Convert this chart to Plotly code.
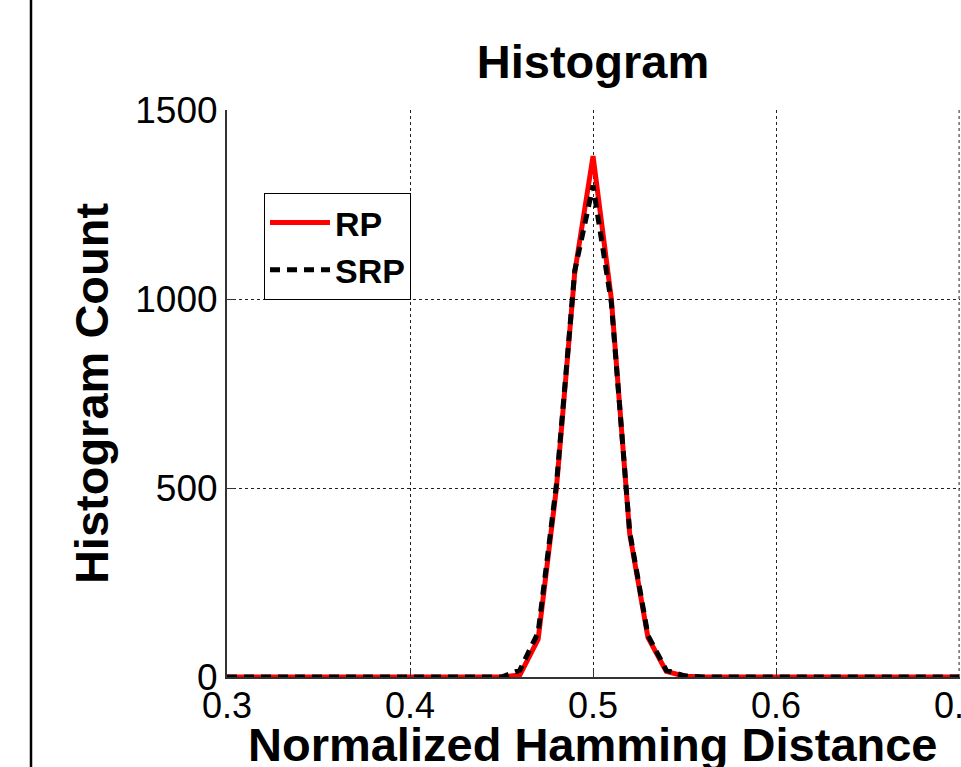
import plotly.graph_objects as go

x_vals = [0.30, 0.31, 0.32, 0.33, 0.34, 0.35, 0.36, 0.37, 0.38, 0.39,
          0.40, 0.41, 0.42, 0.43, 0.44, 0.45, 0.46, 0.47, 0.48, 0.49,
          0.50, 0.51, 0.52, 0.53, 0.54, 0.55, 0.56, 0.57, 0.58, 0.59,
          0.60, 0.61, 0.62, 0.63, 0.64, 0.65, 0.66, 0.67, 0.68, 0.69, 0.70]
rp_counts = [0, 0, 0, 0, 0, 0, 0, 0, 0, 0,
             0, 0, 0, 0, 0, 0, 5, 100, 500, 1070,
             1378, 1000, 380, 105, 15, 2, 0, 0, 0, 0,
             0, 0, 0, 0, 0, 0, 0, 0, 0, 0, 0]
srp_counts = [0, 0, 0, 0, 0, 0, 0, 0, 0, 0,
              0, 0, 0, 0, 0, 0, 18, 118, 510, 1075,
              1300, 990, 385, 110, 18, 3, 0, 0, 0, 0,
              0, 0, 0, 0, 0, 0, 0, 0, 0, 0, 0]
x_ticks = [0.3, 0.4, 0.5, 0.6, 0.7]
x_tick_text = ["0.3", "0.4", "0.5", "0.6", "0.7"]
y_ticks = [0, 500, 1000, 1500]
y_tick_text = ["0", "500", "1000", "1500"]

FONT = "Liberation Sans, Arial, sans-serif"

fig = go.Figure()
fig.add_trace(go.Scatter(x=x_vals, y=rp_counts, mode="lines", name="RP",
                         line=dict(color="#ff0000", width=5)))
fig.add_trace(go.Scatter(x=x_vals, y=srp_counts, mode="lines", name="SRP",
                         line=dict(color="#000000", width=5, dash="10px,7px")))

fig.update_layout(
    width=961, height=767,
    margin=dict(l=227, r=1, t=110, b=90, autoexpand=False),
    paper_bgcolor="white", plot_bgcolor="white",
    title=dict(text="<b>Histogram</b>", x=(593 / 961), xanchor="center",
               y=1 - 62 / 767, yanchor="middle",
               font=dict(family=FONT, size=47, color="black")),
    font=dict(family=FONT, color="black"),
    showlegend=True,
    legend=dict(x=(264 - 227) / 733, y=(677 - 193) / 567, xanchor="left", yanchor="top",
                bgcolor="white", bordercolor="black", borderwidth=1,
                font=dict(family=FONT, size=34, color="black", weight="bold"),
                itemwidth=60, tracegroupgap=0),
    xaxis=dict(range=[0.3, 0.7005], tickvals=x_ticks, ticktext=x_tick_text,
               showgrid=True, gridcolor="#222222", griddash="dot", gridwidth=1,
               showline=True, linecolor="#333333", linewidth=2,
               ticks="inside", ticklen=8, tickcolor="#333333",
               tickfont=dict(family=FONT, size=36, color="black"),
               ticklabelstandoff=-4, ticklabeloverflow="allow", automargin=False,
               zeroline=False),
    yaxis=dict(range=[0, 1500], tickvals=y_ticks, ticktext=y_tick_text,
               showgrid=True, gridcolor="#222222", griddash="dot", gridwidth=1,
               showline=True, linecolor="#333333", linewidth=2,
               ticks="inside", ticklen=8, tickcolor="#333333",
               tickfont=dict(family=FONT, size=37, color="black"),
               automargin=False, zeroline=False,
               title=dict(text="<b>Histogram Count</b>", standoff=12,
                          font=dict(family=FONT, size=47, color="black"))),
)

# grid line at the last x tick (plotly drops it at the plot edge)
fig.add_shape(type="line", xref="x", yref="paper", x0=x_ticks[-1], x1=x_ticks[-1], y0=0, y1=1,
              line=dict(color="#222222", width=1, dash="dot"), layer="below")

fig.add_annotation(text="<b>Normalized Hamming Distance</b>", xref="paper", yref="paper",
                   x=(593 - 227) / 733, y=(677 - 744) / 567, xanchor="center", yanchor="middle",
                   showarrow=False, font=dict(family=FONT, size=47, color="black"))

# left frame border of the figure
fig.add_shape(type="line", xref="paper", yref="paper",
              x0=(31 - 227) / 733, x1=(31 - 227) / 733, y0=-90 / 567, y1=(677) / 567,
              line=dict(color="black", width=2.5))

fig.write_html("out.html", config={"displayModeBar": False},
               post_script="document.body.style.margin='0';document.body.style.overflow='hidden';")
